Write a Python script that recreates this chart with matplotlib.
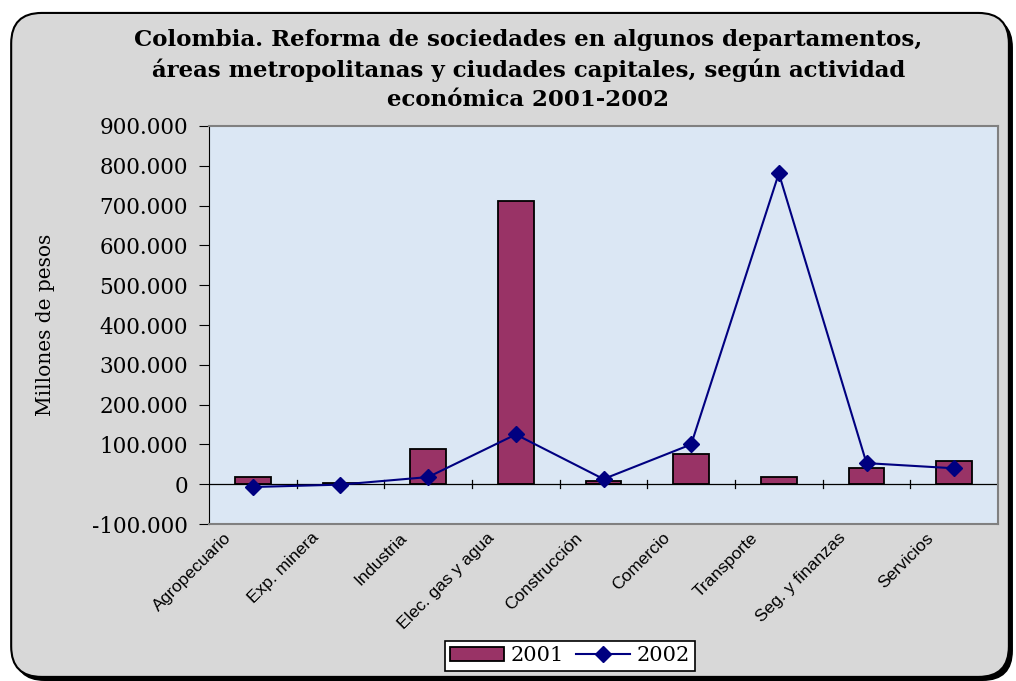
import matplotlib.pyplot as plt
import numpy as np
from matplotlib.patches import FancyBboxPatch
from matplotlib.ticker import FuncFormatter

# Reforma de sociedades por actividad economica (millones de pesos)
actividades = ['Agropecuario', 'Exp. minera', 'Industria', 'Elec. gas y agua',
               'Construcción', 'Comercio', 'Transporte', 'Seg. y finanzas',
               'Servicios']
v2001 = [17000, 3000, 88000, 711000, 8000, 75000, 17000, 40000, 58000]
v2002 = [-7000, -1000, 18000, 125000, 13000, 100000, 781000, 53000, 40000]

plt.rcParams['font.family'] = ['DejaVu Serif']

fig = plt.figure(figsize=(10.16, 6.81), dpi=100)
fig.patch.set_facecolor('white')

# marco redondeado con sombra
shadow = FancyBboxPatch((0.014, 0.0), 0.983, 0.975, boxstyle='round,pad=0,rounding_size=0.03',
                        transform=fig.transFigure, facecolor='black', edgecolor='none',
                        mutation_aspect=1016 / 681, zorder=0)
frame = FancyBboxPatch((0.011, 0.006), 0.982, 0.975, boxstyle='round,pad=0,rounding_size=0.03',
                       transform=fig.transFigure, facecolor='#d8d8d8', edgecolor='black',
                       linewidth=1.5, mutation_aspect=1016 / 681, zorder=0.5)
fig.patches.extend([shadow, frame])

ax = fig.add_axes([0.2057, 0.2305, 0.7766, 0.5845])
ax.set_zorder(2)
ax.set_facecolor('#dbe7f4')

x = np.arange(len(actividades))
bars = ax.bar(x, v2001, width=0.41, color='#993366', edgecolor='black', linewidth=1.3,
              label='2001', zorder=2)
line, = ax.plot(x, v2002, color='#000080', marker='D', markersize=8, linewidth=1.5,
                label='2002', zorder=3)

ax.set_xlim(-0.5, len(actividades) - 0.5)
ax.set_ylim(-100000, 900000)
ax.set_yticks(np.arange(-100000, 900001, 100000))
ax.yaxis.set_major_formatter(FuncFormatter(lambda v, p: f'{int(v):,}'.replace(',', '.')))
ax.tick_params(axis='y', direction='out', length=7, labelsize=15.5, pad=8, colors='black')

# eje x en cero con marcas entre categorias
ax.axhline(0, color='black', linewidth=0.9, zorder=2.5)
ax.set_xticks([])
for b in np.arange(0.5, len(actividades) - 0.5, 1):
    ax.plot([b, b], [-10000, 10000], color='black', linewidth=0.9, zorder=2.5)
for i, name in enumerate(actividades):
    ax.text(i - 0.33, -0.015, name, transform=ax.get_xaxis_transform(), rotation=45,
            ha='right', va='top', fontsize=12.5, family='Liberation Sans',
            rotation_mode='anchor')

for s in ['top', 'right', 'bottom']:
    ax.spines[s].set_color('#808080')
    ax.spines[s].set_linewidth(1.5)
ax.spines['left'].set_color('black')

ax.set_ylabel('Millones de pesos', fontsize=14.5)
ax.yaxis.set_label_coords(-0.195, 0.5)

fig.text(0.52, 0.957, 'Colombia. Reforma de sociedades en algunos departamentos,\n'
         'áreas metropolitanas y ciudades capitales, según actividad\n'
         'económica 2001-2002', ha='center', va='top', fontsize=16.5, fontweight='bold',
         linespacing=1.4, zorder=3)

leg = fig.legend([bars, line], ['2001', '2002'], loc='lower center',
                 bbox_to_anchor=(0.561, 0.0), ncol=2, fontsize=15,
                 frameon=True, fancybox=False, edgecolor='black', framealpha=1,
                 handlelength=2.6, columnspacing=0.6, handletextpad=0.3,
                 borderpad=0.25)
leg.get_frame().set_linewidth(1.2)
leg.set_zorder(3)

fig.savefig('out.png', dpi=100)
